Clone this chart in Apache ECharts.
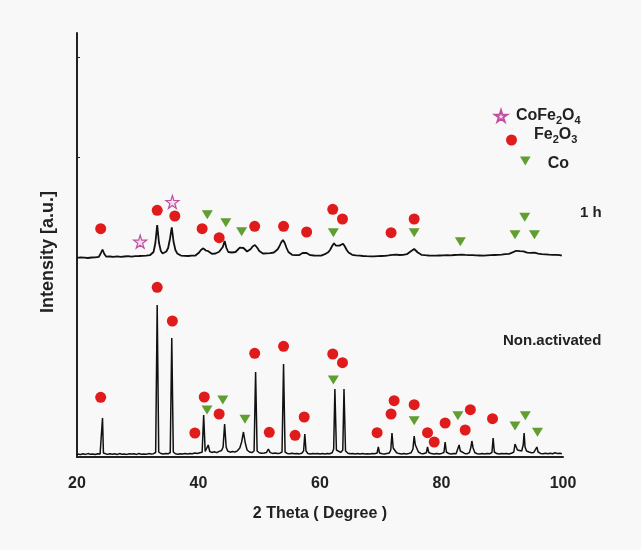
<!DOCTYPE html>
<html><head><meta charset="utf-8">
<script src="https://cdn.jsdelivr.net/npm/echarts@6/dist/echarts.min.js"></script>
<style>html,body{margin:0;padding:0;background:#f8f8f8}#c{width:641px;height:550px}</style>
</head><body><div id="c"></div>
<script>
// x-axis range / ticks (2 Theta, degree)
const xMin = 20, xMax = 100, xInterval = 20;
// y-axis (arbitrary intensity units), tick positions
const yMax = 424;
const yTicks = [300, 400];

// Non-activated pattern [2theta, intensity]
const curveNonActivated = [
[20.0,3],[20.2,3],[20.6,2.5],[21.0,3.2],[21.4,2.6],[21.8,3.4],[22.2,2.8],[22.6,3.1],[23.0,2.5],[23.4,3.3],[23.8,2.9],[24.05,4],[24.2,39],[24.35,4],[24.6,3],[25.0,2.6],[25.4,3.3],[25.8,2.7],[26.2,3.2],[26.6,2.5],[27.0,3.4],[27.4,2.8],[27.8,3.1],[28.2,2.6],[28.6,3.3],[29.0,2.9],[29.4,3.2],[29.8,2.6],[30.2,3.5],[30.6,2.8],[31.0,3.1],[31.4,2.7],[31.8,3.4],[32.2,3.0],[32.6,3.3],[32.95,4.5],[33.2,152],[33.45,5],[33.8,3.5],[34.2,3.0],[34.6,3.4],[35.0,3.2],[35.35,4.5],[35.6,119],[35.85,5],[36.2,3.2],[36.6,2.8],[37.0,3.3],[37.4,2.9],[37.8,3.5],[38.2,3.1],[38.6,3.6],[39.0,3.2],[39.4,4.0],[39.8,3.6],[40.2,4.2],[40.6,4.8],[40.85,42],[41.1,5.5],[41.35,6],[41.6,12],[41.85,5.5],[42.2,4.6],[42.6,5.2],[43.0,4.4],[43.4,5.6],[43.8,6.5],[44.05,10],[44.3,33],[44.55,10],[44.8,6],[45.2,4.8],[45.6,5.5],[46.0,5.0],[46.4,6.2],[46.8,9],[47.1,15],[47.4,25],[47.7,14],[48.0,7],[48.4,5],[48.8,4.4],[49.15,6],[49.4,85],[49.65,6],[50.0,4.2],[50.4,3.8],[50.8,4.1],[51.2,4.6],[51.5,8],[51.8,4.4],[52.2,3.6],[52.6,3.9],[53.0,3.4],[53.4,3.8],[53.75,5],[54.0,93],[54.25,5],[54.6,3.6],[55.0,3.2],[55.4,3.7],[55.8,3.3],[56.2,3.6],[56.6,3.1],[57.0,3.8],[57.3,6],[57.5,23],[57.7,6],[58.0,3.5],[58.4,3.1],[58.8,3.6],[59.2,3.2],[59.6,3.5],[60.0,3.0],[60.4,3.4],[60.8,3.0],[61.2,3.6],[61.6,3.3],[62.0,4.2],[62.25,8],[62.45,68],[62.7,7],[63.0,5],[63.4,4.6],[63.75,7],[63.95,68],[64.2,6],[64.6,3.8],[65.0,3.2],[65.4,3.6],[65.8,3.1],[66.2,3.5],[66.6,3.0],[67.0,3.4],[67.4,2.9],[67.8,3.3],[68.2,3.0],[68.6,3.5],[69.0,3.2],[69.4,4],[69.6,10],[69.8,4],[70.2,3.3],[70.6,3.0],[71.0,3.5],[71.4,3.9],[71.65,7],[71.85,24],[72.05,9],[72.3,7],[72.6,4.2],[73.0,3.4],[73.4,3.0],[73.8,3.5],[74.2,3.1],[74.6,3.6],[75.0,4.2],[75.3,8],[75.5,21],[75.7,12],[75.9,10],[76.2,5],[76.6,3.6],[77.0,3.2],[77.5,4.2],[77.7,10],[77.9,4.5],[78.3,3.4],[78.8,3.1],[79.2,3.5],[79.6,3.0],[80.0,3.6],[80.4,4.5],[80.6,15],[80.8,5],[81.2,3.4],[81.6,3.0],[82.0,3.5],[82.4,3.2],[82.7,4.5],[82.9,12],[83.1,6],[83.4,4],[83.8,3.6],[84.2,3.3],[84.6,4.4],[84.85,10],[85.0,16],[85.2,9],[85.5,4.2],[85.9,3.3],[86.3,3.0],[86.7,3.5],[87.1,3.1],[87.5,3.6],[87.9,3.2],[88.3,4.5],[88.5,19],[88.7,5],[89.1,3.4],[89.5,3.0],[89.9,3.5],[90.3,3.2],[90.7,3.6],[91.1,3.1],[91.5,3.7],[91.9,5],[92.1,13],[92.3,15],[92.5,7],[92.8,5],[93.2,6],[93.45,12],[93.6,24],[93.75,10],[94.0,6],[94.4,5],[94.8,4.2],[95.2,4.6],[95.5,5],[95.7,10],[95.9,5],[96.3,3.6],[96.7,3.2],[97.1,3.7],[97.5,3.3],[97.9,3.8],[98.3,3.2],[98.7,4.2],[99.1,3.4],[99.5,3.8],[99.8,3.2]
];

// 1 h activated pattern [2theta, intensity] (offset trace)
const curve1h = [
[20.0,199.2],[20.3,200.4],[20.6,199.6],[20.9,200.8],[21.2,199.4],[21.5,200.2],[21.8,199.0],[22.1,200.6],[22.4,199.5],[22.7,200.3],[23.0,199.7],[23.3,200.9],[23.6,200.2],[23.9,203.5],[24.2,207.5],[24.5,203.0],[24.8,200.4],[25.1,199.6],[25.4,200.5],[25.7,199.3],[26.0,200.1],[26.3,199.4],[26.6,200.6],[26.9,199.8],[27.2,200.2],[27.5,199.1],[27.8,200.5],[28.1,199.7],[28.4,200.8],[28.7,199.9],[29.0,200.3],[29.3,199.5],[29.6,200.9],[29.9,200.1],[30.2,201.0],[30.5,200.2],[30.8,201.2],[31.1,200.5],[31.4,201.4],[31.7,200.8],[32.0,201.8],[32.3,202.5],[32.6,205],[32.9,214],[33.2,232],[33.5,214],[33.8,206],[34.1,203.5],[34.4,204.5],[34.7,205.5],[35.0,209],[35.3,218],[35.6,229.7],[35.9,215],[36.2,207],[36.5,203.6],[36.8,202.2],[37.1,201.4],[37.4,200.6],[37.7,201.2],[38.0,200.4],[38.3,201.0],[38.6,200.3],[38.9,201.3],[39.2,200.6],[39.5,201.5],[39.8,202.2],[40.1,204.5],[40.4,207],[40.8,208.7],[41.2,206.5],[41.6,205.8],[41.9,204.0],[42.2,203.2],[42.5,204.0],[42.8,203.5],[43.1,204.6],[43.4,205.2],[43.7,207],[44.0,210],[44.3,216],[44.6,209],[44.9,205],[45.2,203.8],[45.5,204.5],[45.8,203.6],[46.1,205],[46.4,206.5],[46.8,209.3],[47.1,208],[47.4,209],[47.7,207],[48.0,205.5],[48.3,206.2],[48.6,208],[48.9,210.5],[49.3,212],[49.7,209],[50.0,206],[50.3,204.2],[50.6,203.5],[50.9,202.8],[51.2,203.6],[51.5,202.9],[51.8,203.8],[52.1,203.2],[52.4,204.5],[52.7,205.5],[53.0,207.5],[53.3,210.5],[53.6,214.5],[53.9,217],[54.2,214],[54.5,209],[54.8,205],[55.1,203.2],[55.4,202.2],[55.7,202.8],[56.0,201.9],[56.3,202.6],[56.6,202.0],[56.9,203.2],[57.2,204.2],[57.5,205.3],[57.8,204.0],[58.1,202.6],[58.4,201.8],[58.7,202.4],[59.0,201.5],[59.3,202.2],[59.6,201.3],[59.9,202.0],[60.2,201.4],[60.5,202.3],[60.8,202.8],[61.1,203.6],[61.4,205],[61.7,207.5],[62.0,211],[62.3,213.7],[62.6,211.5],[62.9,210.2],[63.2,211.4],[63.5,212.6],[63.8,213.2],[64.1,210.5],[64.4,207],[64.7,204.5],[65.0,203.2],[65.3,202.2],[65.6,202.7],[65.9,201.6],[66.2,202.2],[66.5,201.3],[66.8,201.9],[67.1,201.0],[67.4,201.7],[67.7,200.8],[68.0,201.5],[68.3,200.7],[68.6,201.4],[68.9,200.6],[69.2,201.3],[69.5,200.8],[69.8,201.8],[70.1,201.0],[70.4,201.9],[70.7,201.2],[71.0,202.0],[71.3,201.6],[71.6,202.8],[71.9,202.2],[72.2,201.5],[72.5,202.3],[72.8,201.4],[73.1,202.0],[73.4,201.3],[73.7,202.2],[74.0,201.6],[74.3,202.8],[74.6,203.8],[74.9,205.5],[75.2,207],[75.5,208],[75.8,206.5],[76.1,204.5],[76.4,203.0],[76.7,202.2],[77.0,202.8],[77.3,201.8],[77.6,202.5],[77.9,201.5],[78.2,202.3],[78.5,201.4],[78.8,202.1],[79.1,201.3],[79.4,202.2],[79.7,201.5],[80.0,202.4],[80.3,201.6],[80.6,202.6],[80.9,201.8],[81.2,202.5],[81.5,201.7],[81.8,202.8],[82.1,202.0],[82.4,202.9],[82.7,202.2],[83.0,203.2],[83.3,202.4],[83.6,203.0],[83.9,202.1],[84.2,202.8],[84.5,201.9],[84.8,202.6],[85.1,201.8],[85.4,202.4],[85.7,201.6],[86.0,202.3],[86.3,201.5],[86.6,202.2],[86.9,201.4],[87.2,202.3],[87.5,201.6],[87.8,202.5],[88.1,201.8],[88.4,202.6],[88.7,202.0],[89.0,202.8],[89.3,202.2],[89.6,203.0],[89.9,202.4],[90.2,203.2],[90.5,202.8],[90.8,203.6],[91.1,203.2],[91.4,204.0],[91.7,204.6],[92.0,205.2],[92.3,206.2],[92.6,205.0],[92.9,205.8],[93.2,204.6],[93.5,205.6],[93.8,206.0],[94.1,204.4],[94.4,203.6],[94.7,204.2],[95.0,203.2],[95.3,204.4],[95.6,202.8],[95.9,203.4],[96.2,202.2],[96.5,202.9],[96.8,201.8],[97.1,202.6],[97.4,201.6],[97.7,202.3],[98.0,201.5],[98.3,202.2],[98.6,201.4],[98.9,202.1],[99.2,201.2],[99.5,201.8],[99.8,201.3]
];

// Phase markers [2theta, marker height]
const fe2o3Top = [[23.9,228.3],[33.2,246.7],[36.1,241],[40.6,228.3],[43.4,219.3],[49.25,230.7],[54.0,230.7],[57.8,225],[62.1,247.7],[63.7,238],[71.7,224.3],[75.5,238]];
const fe2o3Bottom = [[23.9,59.7],[33.2,169.7],[35.7,136],[39.4,24],[40.95,60],[43.4,43],[49.25,103.7],[51.65,24.7],[54.0,110.7],[55.9,21.7],[57.4,40],[62.1,103],[63.7,94.3],[69.4,24.3],[71.7,43],[72.2,56.3],[75.5,52.3],[77.7,24.3],[78.8,15],[80.6,34],[83.9,27],[84.75,47.3],[88.4,38.3]];
const coTop = [[41.45,242.3],[44.5,234.3],[47.1,225.3],[62.2,224.3],[75.5,224.3],[83.1,215.3],[92.1,222.3],[93.7,239.7],[95.3,222.3]];
const coBottom = [[41.4,47],[44.0,57],[47.65,37.7],[62.2,77],[75.5,36.3],[82.7,41.3],[92.1,31],[93.8,41.3],[95.8,24.7]];
const cofe2o4Top = [[30.4,215.3],[35.7,255]];

const seriesNames = ['CoFe2O4', 'Fe2O3', 'Co'];
const legendLabels = {
  'CoFe2O4': '{n|CoFe}{s|2}{n|O}{s|4}',
  'Fe2O3': '{n|Fe}{s|2}{n|O}{s|3}',
  'Co': '{n|Co}'
};
const traceLabels = ['1 h', 'Non.activated'];

const FONT = 'Liberation Sans, Arial, Helvetica, sans-serif';
const TXT = '#222';
const STAR = 'path://M50,0 L61,35 L98,35 L68,57 L79,91 L50,70 L21,91 L32,57 L2,35 L39,35 Z';
const TRI = 'path://M0,0 L10,0 L5,8.5 Z';

function rich(gap) {
  return {
    g: {width: gap},
    n: {fontSize: 16, fontWeight: 'bold', fontFamily: FONT, color: TXT, lineHeight: 20},
    s: {fontSize: 11, fontWeight: 'bold', fontFamily: FONT, color: TXT, lineHeight: 11, verticalAlign: 'bottom'}
  };
}

const chart = echarts.init(document.getElementById('c'), null, {renderer: 'canvas'});
chart.setOption({
  animation: false,
  backgroundColor: '#f8f8f8',
  grid: {left: 77, right: 78, top: 33, bottom: 93, containLabel: false},
  xAxis: {
    type: 'value', min: xMin, max: xMax, interval: xInterval,
    name: '2 Theta ( Degree )', nameLocation: 'middle', nameGap: 49,
    nameTextStyle: {fontSize: 16, fontWeight: 'bold', fontFamily: FONT, color: TXT},
    axisLine: {show: true, onZero: false, lineStyle: {color: '#222', width: 2}},
    axisTick: {show: false},
    axisLabel: {fontSize: 16, fontWeight: 'bold', fontFamily: FONT, color: TXT, margin: 19},
    splitLine: {show: false}
  },
  yAxis: {
    type: 'value', min: 0, max: yMax,
    name: 'Intensity [a.u.]', nameLocation: 'middle', nameGap: 20,
    nameTextStyle: {fontSize: 18, fontWeight: 'bold', fontFamily: FONT, color: TXT, padding: [0, 14, 0, 0]},
    axisLine: {show: true, lineStyle: {color: '#222', width: 2}},
    axisTick: {show: true, inside: true, length: 3, customValues: yTicks, lineStyle: {color: '#222', width: 1}},
    axisLabel: {show: false},
    splitLine: {show: false}
  },
  legend: seriesNames.map((nm, i) => {
    const cfg = [
      {left: 494, top: 108, iw: 12, ih: 12, pad: [0, 0, 0, 0], gap: 4},
      {left: 506, top: 127, iw: 11, ih: 11, pad: [0, 0, 10, 0], gap: 12},
      {left: 520, top: 156, iw: 11, ih: 9, pad: [6, 0, 0, 0], gap: 12}
    ][i];
    return {
      data: [nm], left: cfg.left, top: cfg.top, padding: 0, orient: 'vertical',
      itemWidth: cfg.iw, itemHeight: cfg.ih, selectedMode: false,
      formatter: n => '{g|}' + legendLabels[n],
      textStyle: {padding: cfg.pad, rich: rich(cfg.gap)}
    };
  }),
  graphic: [
    {type: 'text', left: 580, top: 205, style: {text: traceLabels[0], font: 'bold 15px ' + FONT, fill: TXT}},
    {type: 'text', left: 503, top: 333, style: {text: traceLabels[1], font: 'bold 15px ' + FONT, fill: TXT}}
  ],
  series: [
    {name: 'Non.activated', type: 'line', data: curveNonActivated, symbol: 'none', silent: true,
     lineStyle: {color: '#111', width: 1.5}, z: 2},
    {name: '1 h', type: 'line', data: curve1h, symbol: 'none', silent: true,
     lineStyle: {color: '#111', width: 1.8}, z: 2},
    {name: 'CoFe2O4', type: 'scatter', data: cofe2o4Top, symbol: STAR, symbolSize: 13, z: 5,
     itemStyle: {color: '#f6dcef', borderColor: '#bf4f9f', borderWidth: 1.2, opacity: 1}},
    {name: 'Fe2O3', type: 'scatter', data: fe2o3Top.concat(fe2o3Bottom), symbol: 'circle', symbolSize: 11, z: 5,
     itemStyle: {color: '#e01b1b', opacity: 1}},
    {name: 'Co', type: 'scatter', data: coTop.concat(coBottom), symbol: TRI, symbolSize: [11, 9], z: 5,
     itemStyle: {color: '#5f9e2f', opacity: 1}}
  ]
});
</script></body></html>
